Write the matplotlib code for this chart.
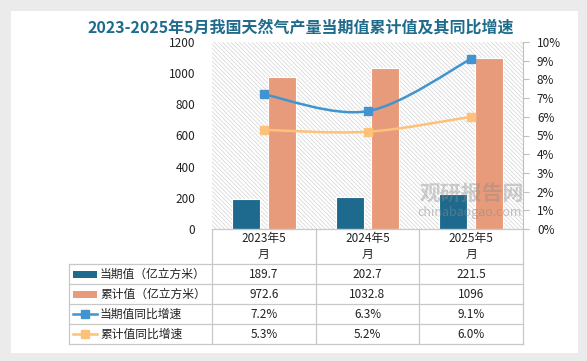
import numpy as np
import matplotlib
matplotlib.use("Agg")
from matplotlib import pyplot as plt
from matplotlib.path import Path
from matplotlib.collections import LineCollection
import matplotlib.patches as mpatches
from matplotlib.lines import Line2D

plt.rcParams['font.family'] = ['Noto Sans CJK SC', 'DejaVu Sans']

# ── Data ──────────────────────────────────────────────────────────────────────
categories = ["2023年5\n月", "2024年5\n月", "2025年5\n月"]
current_val = [189.7, 202.7, 221.5]          # 当期值（亿立方米）
cumulative_val = [972.6, 1032.8, 1096]       # 累计值（亿立方米）
current_yoy = [7.2, 6.3, 9.1]                # 当期值同比增速 %
cumulative_yoy = [5.3, 5.2, 6.0]             # 累计值同比增速 %

series_names = ["当期值（亿立方米）", "累计值（亿立方米）", "当期值同比增速", "累计值同比增速"]
table_rows = [
    [f"{v:g}" for v in current_val],
    [f"{v:g}" for v in cumulative_val],
    [f"{v:.1f}%" for v in current_yoy],
    [f"{v:.1f}%" for v in cumulative_yoy],
]

# ── Style ─────────────────────────────────────────────────────────────────────
W, H = 587, 361
COL_CUR = "#1d6a8e"
COL_CUM = "#e89b7b"
COL_LCUR = "#4194cf"
COL_LCUM = "#fdc17a"
COL_TITLE = "#1f6b8c"
COL_GRIDL = "#c8c8c8"
COL_TEXT = "#222222"
FS = 8.5


def fx(x):
    return x / W


def fy(y):
    return 1 - y / H


fig = plt.figure(figsize=(W / 100, H / 100), dpi=100)
fig.patch.set_facecolor("#ebebeb")
fig.add_artist(mpatches.Rectangle((fx(11), fy(353)), fx(578) - fx(11), fy(11) - fy(353),
                                  transform=fig.transFigure, facecolor="white",
                                  edgecolor="none", zorder=0))

fig.text(fx(301), fy(28), "2023-2025年5月我国天然气产量当期值累计值及其同比增速",
         ha="center", va="center", fontsize=11.5, fontweight="bold", color=COL_TITLE)

L, R, T, B = 212, 523, 42, 229
ax = fig.add_axes([fx(L), fy(B), fx(R) - fx(L), fy(T) - fy(B)])
ax.set_facecolor("white")

# diagonal background pattern ("\" direction), drawn in axes coordinates
aw, ah = R - L, B - T
segs = []
for x0 in np.arange(-ah, aw, 4.2):
    segs.append([(x0 / aw, 1.0), ((x0 + ah) / aw, 0.0)])
hatch = LineCollection(segs, colors="#d9d9d9", linewidths=0.6,
                       transform=ax.transAxes, zorder=0)
ax.add_collection(hatch)
hatch.set_clip_path(mpatches.Rectangle((0, 0), 1, 1, transform=ax.transAxes))

x = np.arange(len(categories))
bw = 0.27
off = 0.173
ax.bar(x - off, current_val, bw, color=COL_CUR, edgecolor="white", linewidth=0.8, zorder=2)
ax.bar(x + off, cumulative_val, bw, color=COL_CUM, edgecolor="white", linewidth=0.8, zorder=2)
ax.set_xlim(-0.5, len(categories) - 0.5)
ax.set_ylim(0, 1200)
ax.set_yticks(np.arange(0, 1201, 200))
ax.set_xticks([])
ax.tick_params(axis="y", length=0, pad=12, labelsize=FS, labelcolor=COL_TEXT)
for s in ax.spines.values():
    s.set_visible(False)

ax2 = ax.twinx()
ax2.set_ylim(0, 10)
ax2.set_yticks(np.arange(0, 11, 1))
ax2.set_yticklabels([f"{v}%" for v in range(11)])
ax2.tick_params(axis="y", length=4, width=0.8, color="#bfbfbf", pad=6,
                labelsize=FS, labelcolor=COL_TEXT)
for k, s in ax2.spines.items():
    s.set_visible(k == "right")
ax2.spines["right"].set_color("#bfbfbf")
ax2.spines["right"].set_linewidth(0.8)


def smooth_path(xs, ys):
    pts = np.column_stack([xs, ys]).astype(float)
    ext = np.vstack([pts[0], pts, pts[-1]])
    verts = [pts[0]]
    codes = [Path.MOVETO]
    for i in range(1, len(ext) - 2):
        p0, p1, p2, p3 = ext[i - 1], ext[i], ext[i + 1], ext[i + 2]
        verts += [p1 + (p2 - p0) / 6, p2 - (p3 - p1) / 6, p2]
        codes += [Path.CURVE4] * 3
    return Path(verts, codes)


for vals, col in [(current_yoy, COL_LCUR), (cumulative_yoy, COL_LCUM)]:
    ax2.add_patch(mpatches.PathPatch(smooth_path(x, vals), facecolor="none",
                                     edgecolor=col, linewidth=1.8, zorder=3))
    ax2.plot(x, vals, "s", color=col, markersize=6, zorder=4)

# watermark
fig.text(fx(472), fy(193), "观研报告网", ha="center", va="center", fontsize=15,
         fontweight="bold", color="#8a8a8a", alpha=0.4)
fig.text(fx(470), fy(212), "chinabaogao.com", ha="center", va="center", fontsize=9,
         color="#8a8a8a", alpha=0.5)

# ── Data table ────────────────────────────────────────────────────────────────
cols = [68.5, 212, 316, 419, 523]
rows = [229, 264, 284, 304, 324, 344]


def hline(y, x0, x1):
    fig.add_artist(Line2D([fx(x0), fx(x1)], [fy(y), fy(y)], transform=fig.transFigure,
                          color=COL_GRIDL, linewidth=0.9))


def vline(xp, y0, y1):
    fig.add_artist(Line2D([fx(xp), fx(xp)], [fy(y0), fy(y1)], transform=fig.transFigure,
                          color=COL_GRIDL, linewidth=0.9))


hline(rows[0], cols[1], cols[-1])
for y in rows[1:]:
    hline(y, cols[0], cols[-1])
for c in cols[1:]:
    vline(c, rows[0], rows[-1])
vline(cols[0], rows[1], rows[-1])

for j, cat in enumerate(categories):
    cx = (cols[j + 1] + cols[j + 2]) / 2
    fig.text(fx(cx), fy((rows[0] + rows[1]) / 2), cat, ha="center", va="center",
             fontsize=FS, color=COL_TEXT, linespacing=1.35)

keys = [("bar", COL_CUR), ("bar", COL_CUM), ("line", COL_LCUR), ("line", COL_LCUM)]
for i, (name, (kind, col)) in enumerate(zip(series_names, keys)):
    cy = (rows[i + 1] + rows[i + 2]) / 2
    if kind == "bar":
        fig.add_artist(mpatches.Rectangle((fx(73), fy(cy + 3.5)), fx(97) - fx(73), 7 / H,
                                          transform=fig.transFigure, facecolor=col,
                                          edgecolor="none"))
    else:
        fig.add_artist(Line2D([fx(73), fx(97)], [fy(cy), fy(cy)], transform=fig.transFigure,
                              color=col, linewidth=1.8))
        fig.add_artist(Line2D([fx(85)], [fy(cy)], transform=fig.transFigure, marker="s",
                              markersize=6, color=col, linestyle="none"))
    fig.text(fx(100), fy(cy), name, ha="left", va="center", fontsize=FS, color=COL_TEXT)
    for j, val in enumerate(table_rows[i]):
        cx = (cols[j + 1] + cols[j + 2]) / 2
        fig.text(fx(cx), fy(cy), val, ha="center", va="center", fontsize=FS, color=COL_TEXT)

fig.savefig("out.png", dpi=100)
